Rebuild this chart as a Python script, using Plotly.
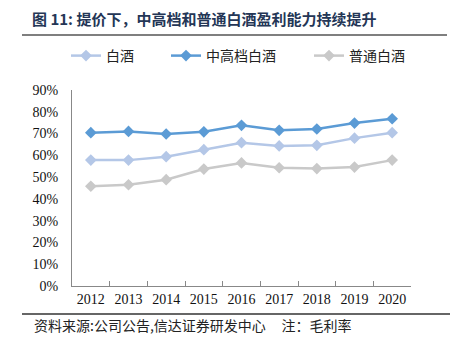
import plotly.graph_objects as go

years = ["2012", "2013", "2014", "2015", "2016", "2017", "2018", "2019", "2020"]
baijiu = [0.578, 0.578, 0.594, 0.626, 0.658, 0.643, 0.646, 0.679, 0.704]
high_end = [0.704, 0.710, 0.698, 0.708, 0.738, 0.715, 0.721, 0.748, 0.768]
ordinary = [0.458, 0.465, 0.488, 0.537, 0.565, 0.543, 0.539, 0.546, 0.578]

names = ["白酒", "中高档白酒", "普通白酒"]
colors = ["#B4C7E7", "#5B9BD5", "#C9C9C9"]
series = [baijiu, high_end, ordinary]
legend_ids = ["legend", "legend2", "legend3"]

fig = go.Figure()
for name, vals, col, lg in zip(names, series, colors, legend_ids):
    fig.add_trace(go.Scatter(
        x=years, y=vals, name=name, mode="lines+markers",
        line=dict(color=col, width=2.5),
        marker=dict(symbol="diamond", size=9, color=col),
        legend=lg,
    ))

W, H = 456, 347
L, R, T, B = 72, 45, 90, 61
pw, ph = W - L - R, H - T - B


def px(x):
    return (x - L) / pw


def py(y):
    return (H - B - y) / ph


cjk = "Noto Sans CJK SC"
legend_style = dict(orientation="h", yanchor="middle", xanchor="left",
                    bgcolor="rgba(0,0,0,0)", font=dict(family=cjk, size=14, color="#222"),
                    itemwidth=30)

fig.update_layout(
    width=W, height=H,
    margin=dict(l=L, r=R, t=T, b=B),
    paper_bgcolor="white", plot_bgcolor="white",
    title=dict(text="<b>图 11: 提价下，中高档和普通白酒盈利能力持续提升</b>",
               xref="container", yref="container", x=32 / W, y=1 - 20 / H,
               xanchor="left", yanchor="middle",
               font=dict(family=cjk, size=15, color="#243656")),
    legend=dict(x=px(66), y=py(56), **legend_style),
    legend2=dict(x=px(166), y=py(56), **legend_style),
    legend3=dict(x=px(309), y=py(56), **legend_style),
    xaxis=dict(type="category", range=[-0.5, 8.5], showline=True, linecolor="#888",
               linewidth=1, ticks="inside", tickson="boundaries", ticklen=5,
               tickcolor="#888", showgrid=False, zeroline=False,
               tickfont=dict(family="Liberation Serif", size=14, color="#111")),
    yaxis=dict(range=[0, 0.9], dtick=0.1, tickformat=".0%", showline=True,
               linecolor="#888", linewidth=1, showgrid=False, zeroline=False,
               ticks="", ticklabelstandoff=10,
               tickfont=dict(family="Liberation Serif", size=14, color="#111")),
    showlegend=True,
)

# Rules above the legend and below the axis
fig.add_shape(type="line", xref="paper", yref="paper",
              x0=px(22), x1=px(447), y0=py(35), y1=py(35),
              line=dict(color="#555", width=1.5))
fig.add_shape(type="line", xref="paper", yref="paper",
              x0=px(22), x1=px(450), y0=py(314), y1=py(314),
              line=dict(color="#333", width=1.5))

fig.add_annotation(text="资料来源:公司公告,信达证券研发中心     注：毛利率",
                   xref="paper", yref="paper", x=px(32), y=py(325),
                   xanchor="left", yanchor="middle", showarrow=False,
                   font=dict(family=cjk, size=14, color="#222"))

fig.write_html("out.html")
